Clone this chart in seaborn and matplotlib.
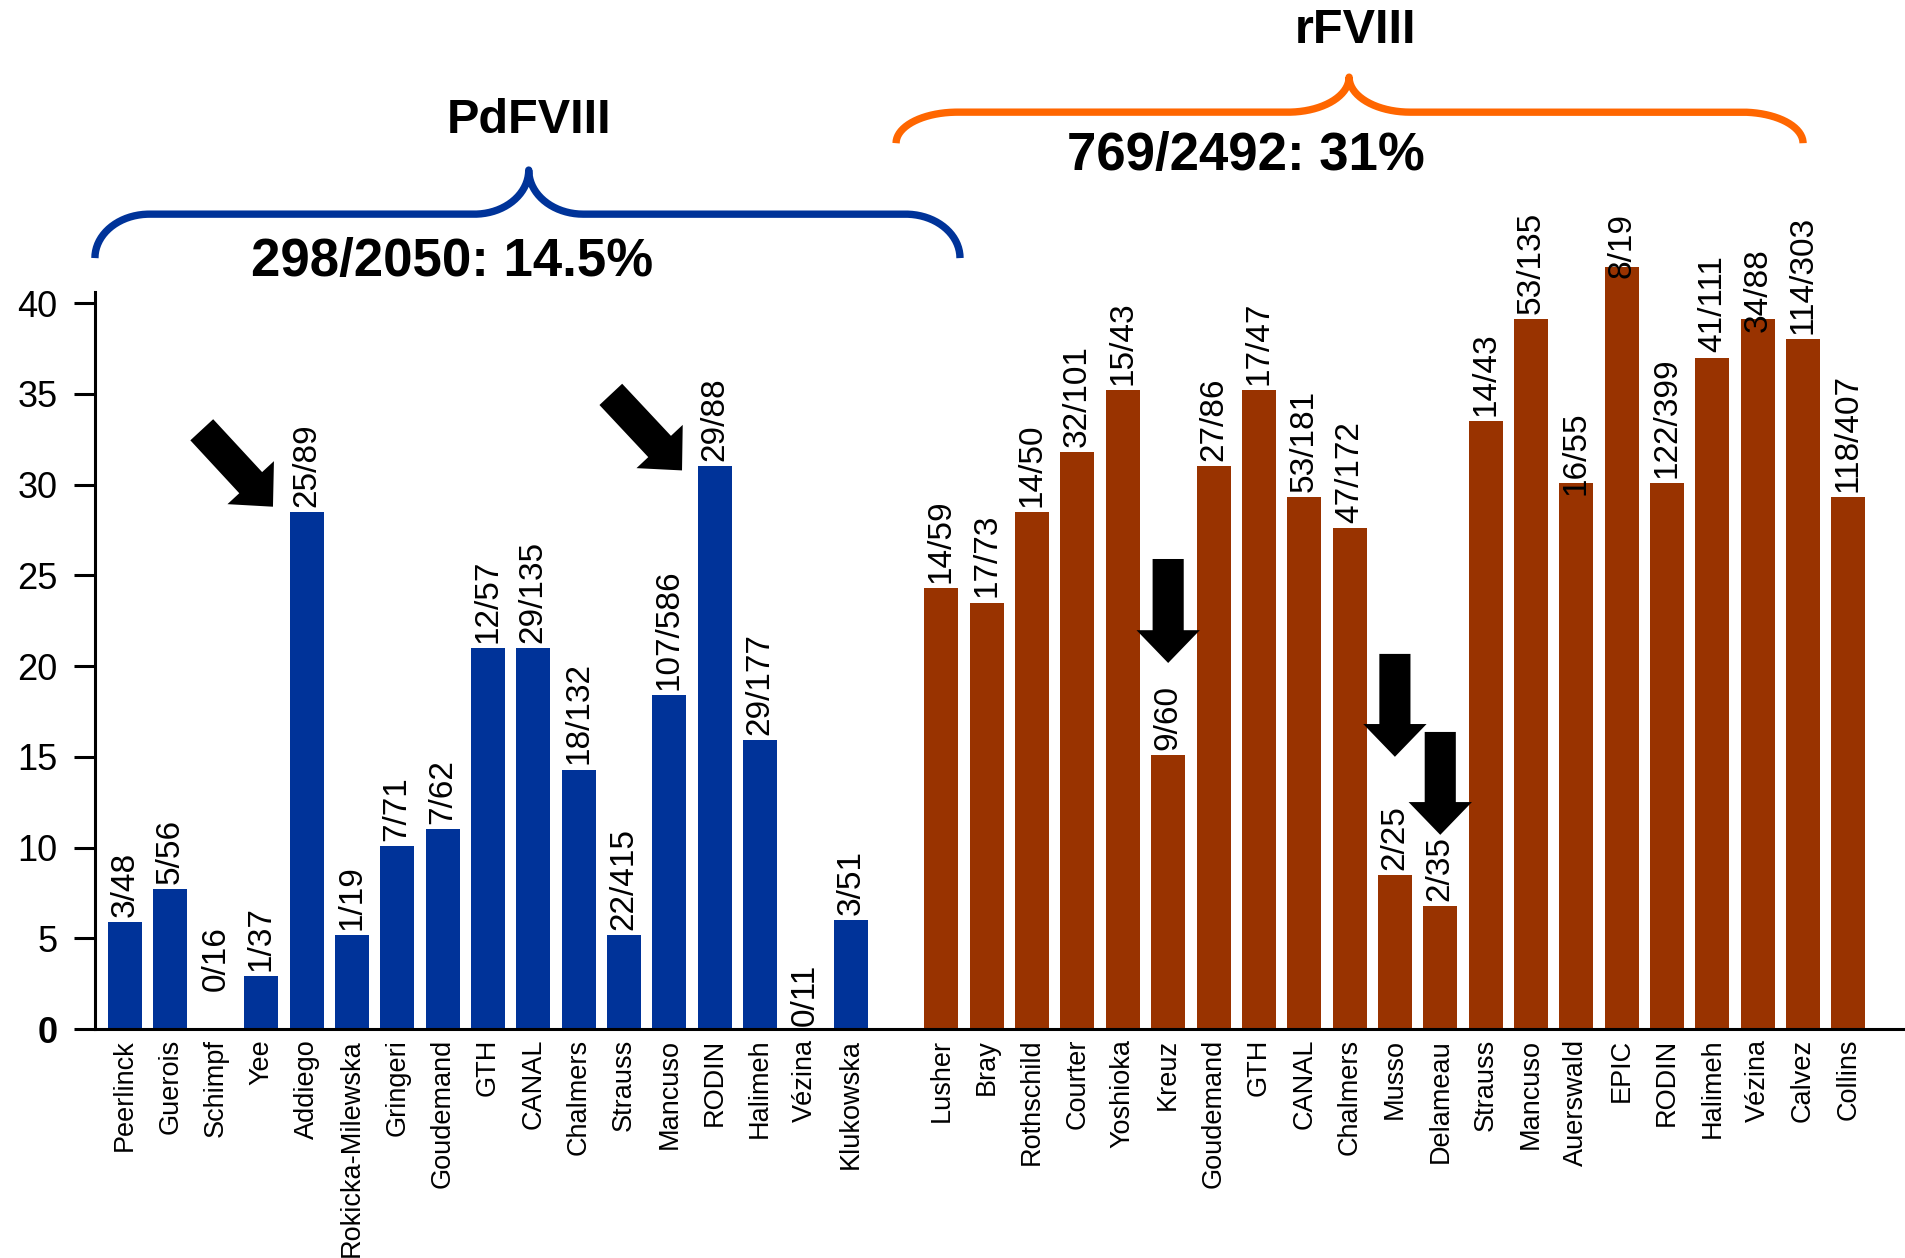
import numpy as np
import pandas as pd
import matplotlib
matplotlib.use("Agg")
import matplotlib.pyplot as plt
import seaborn as sns

# study names, % inhibitor values and n/N labels
pd_studies = ['Peerlinck', 'Guerois', 'Schimpf', 'Yee', 'Addiego', 'Rokicka-Milewska',
              'Gringeri', 'Goudemand', 'GTH', 'CANAL', 'Chalmers', 'Strauss', 'Mancuso',
              'RODIN', 'Halimeh', 'Vézina', 'Klukowska']
pd_values = [5.9, 7.7, 0, 2.9, 28.5, 5.2, 10.1, 11.0, 21.0, 21.0, 14.3, 5.2, 18.4,
             31.0, 15.9, 0, 6.0]
pd_labels = ['3/48', '5/56', '0/16', '1/37', '25/89', '1/19', '7/71', '7/62', '12/57',
             '29/135', '18/132', '22/415', '107/586', '29/88', '29/177', '0/11', '3/51']

r_studies = ['Lusher', 'Bray', 'Rothschild', 'Courter', 'Yoshioka', 'Kreuz', 'Goudemand',
             'GTH', 'CANAL', 'Chalmers', 'Musso', 'Delameau', 'Strauss', 'Mancuso',
             'Auerswald', 'EPIC', 'RODIN', 'Halimeh', 'Vézina', 'Calvez', 'Collins']
r_values = [24.3, 23.5, 28.5, 31.8, 35.2, 15.1, 31.0, 35.2, 29.3, 27.6, 8.5, 6.8,
            33.5, 39.1, 30.1, 42.0, 30.1, 37.0, 39.1, 38.0, 29.3]
r_labels = ['14/59', '17/73', '14/50', '32/101', '15/43', '9/60', '27/86', '17/47',
            '53/181', '47/172', '2/25', '2/35', '14/43', '53/135', '16/55', '8/19',
            '122/399', '41/111', '34/88', '114/303', '118/407']

pd_title, pd_summary = 'PdFVIII', '298/2050: 14.5%'
r_title, r_summary = 'rFVIII', '769/2492: 31%'

# one empty slot between the two groups
n_pd = len(pd_studies)
positions = list(range(n_pd)) + list(range(n_pd + 1, n_pd + 1 + len(r_studies)))
df = pd.DataFrame({
    'pos': positions,
    'pct': pd_values + r_values,
    'group': ['PdFVIII'] * len(pd_values) + ['rFVIII'] * len(r_values),
})
names = pd_studies + r_studies
bar_text = pd_labels + r_labels

BLUE, BROWN, ORANGE = '#003399', '#993300', '#FF6600'

sns.set_theme(style='ticks')
plt.rcParams['font.family'] = ['Liberation Sans', 'DejaVu Sans']
plt.rcParams['text.color'] = 'black'
plt.rcParams['xtick.color'] = 'black'
plt.rcParams['ytick.color'] = 'black'
plt.rcParams['axes.edgecolor'] = 'black'

fig = plt.figure(figsize=(19.06, 12.58), dpi=100)
ax = fig.add_axes([0.0498, 0.1820, 0.9502, 0.8180])

sns.barplot(data=df, x='pos', y='pct', hue='group', palette={'PdFVIII': BLUE, 'rFVIII': BROWN},
            native_scale=True, dodge=False, width=0.75, saturation=1, errorbar=None,
            legend=False, linewidth=0, ax=ax)

ax.set_xlim(-0.666, 39.27)
ax.set_ylim(0, 56.7)
ax.set_xlabel('')
ax.set_ylabel('')

# axes styling
for side in ['top', 'right']:
    ax.spines[side].set_visible(False)
ax.spines['left'].set_linewidth(2.2)
ax.spines['bottom'].set_linewidth(2.2)
ax.spines['left'].set_bounds(0, 40.6)

ax.set_yticks(range(0, 41, 5))
ax.set_yticklabels([str(v) for v in range(0, 41, 5)], fontsize=26)
ax.get_yticklabels()[0].set_fontweight('bold')
ax.tick_params(axis='y', length=15, width=2.2, pad=12, colors='black')

ax.set_xticks(positions)
ax.set_xticklabels(names, rotation=90, fontsize=19.5,
                   family=['Liberation Sans Narrow', 'Liberation Sans', 'DejaVu Sans'])
ax.tick_params(axis='x', length=0, pad=7)

# n/N labels above the bars (a few were placed by hand in the original)
label_nudge = {2: 2.1, 15: 0.15, 31: -0.66, 32: -0.6, 35: -0.72}
for i, (p, v, t) in enumerate(zip(positions, df['pct'], bar_text)):
    off = label_nudge.get(i, 0.28)
    ax.text(p, v + off, t, rotation=90, ha='center', va='bottom', fontsize=24)


def brace(x0, x1, xm, y_end, y_mid, y_tip, rx, color):
    t = np.linspace(0, np.pi / 2, 40)
    xs1 = x0 + rx - rx * np.cos(t)
    ys1 = y_end + (y_mid - y_end) * np.sin(t)
    xs2 = xm - rx + rx * np.sin(t)
    ys2 = y_tip - (y_tip - y_mid) * np.cos(t)
    xs3 = 2 * xm - xs2[::-1]
    ys3 = ys2[::-1]
    xs4 = x1 - (xs1[::-1] - x0)
    ys4 = ys1[::-1]
    ax.plot(np.concatenate([xs1, xs2, xs3, xs4]), np.concatenate([ys1, ys2, ys3, ys4]),
            color=color, lw=5.3, clip_on=False, solid_capstyle='butt', solid_joinstyle='round')


brace(-0.666, 18.41, 8.9, 42.48, 44.9, 47.33, 1.2, BLUE)
brace(17.0, 37.0, 26.99, 48.81, 50.52, 52.45, 1.35, ORANGE)

ax.text(8.9, 49.37, pd_title, ha='center', va='baseline', fontsize=35, fontweight='bold')
ax.text(7.21, 41.49, pd_summary, ha='center', va='baseline', fontsize=38, fontweight='bold')
ax.text(27.12, 54.32, r_title, ha='center', va='baseline', fontsize=35, fontweight='bold')
ax.text(24.71, 47.33, r_summary, ha='center', va='baseline', fontsize=38, fontweight='bold')

# black block arrows: (bar index, tip dx, tip dy, tail dx, tail dy) relative to the bar top
arrow_marks = [
    (4, -0.74, 0.28, -2.31, 4.52),      # Addiego
    (13, -0.72, -0.22, -2.29, 3.97),    # RODIN (PdFVIII)
    (n_pd + 5, 0.0, 5.07, 0.0, 10.8),   # Kreuz
    (n_pd + 10, 0.0, 6.5, 0.0, 12.17),  # Musso
    (n_pd + 11, 0.0, 3.9, 0.0, 9.57),   # Delameau
]
vals = list(df['pct'])
for i, tdx, tdy, sdx, sdy in arrow_marks:
    p, v = positions[i], vals[i]
    ax.annotate('', xy=(p + tdx, v + tdy), xytext=(p + sdx, v + sdy),
                arrowprops=dict(arrowstyle='simple,head_length=1.18,head_width=2.28,tail_width=1.12',
                                mutation_scale=20, color='black', lw=0, shrinkA=0, shrinkB=0))

fig.savefig('out.png', dpi=100, facecolor='white')
